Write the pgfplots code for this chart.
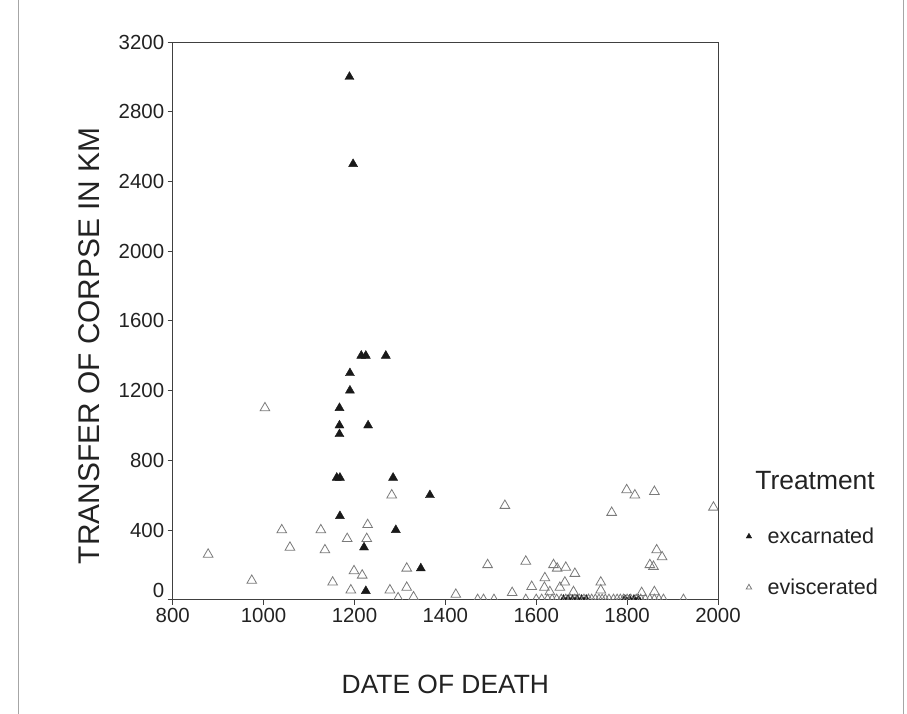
\documentclass[border=0pt]{standalone}
\usepackage{pgfplots}
\pgfplotsset{compat=1.18}
\usepackage{fontspec}
\setmainfont{Liberation Sans}
\definecolor{txt}{HTML}{222222}
\definecolor{hol}{HTML}{7A7A7A}
\pgfplotsset{smallmark/.style={legend image code/.code={\draw[##1,mark size=3.2bp] plot coordinates {(0bp,0bp)};}}}
\begin{document}
\begin{tikzpicture}
\begin{axis}[
 scale only axis, width=545.3bp, height=557.7bp,
 xmin=800, xmax=2000, ymin=0, ymax=3200,
 xtick={800,1000,...,2000}, ytick={400,800,...,3200},
 extra y ticks={0}, extra y tick style={yticklabel style={yshift=9bp}},
 xtick pos=left, ytick pos=left,
 axis line style={draw=black!75, line width=0.7bp},
 tick style={draw=black!75, line width=0.7bp},
 tick align=outside, major tick length=5bp,
 /pgf/number format/assume math mode=true,
 /pgf/number format/1000 sep={},
 ticklabel style={font=\fontsize{20.5}{23}\selectfont, text=txt},
 xlabel={DATE OF DEATH}, ylabel={TRANSFER OF CORPSE IN KM},
 every axis x label/.style={at={(rel axis cs:0.5,-0.152)},anchor=center,font=\fontsize{26.5}{30}\selectfont, text=txt},
 every axis y label/.style={at={(rel axis cs:-0.153,0.4555)},rotate=90,anchor=center,font=\fontsize{30}{34}\selectfont, text=txt},
 clip marker paths=true,
 legend style={draw=none, fill=none, at={(rel axis cs:1.0513,0.1327)}, anchor=north west,
   font=\fontsize{21.6}{24}\selectfont, text=txt, row sep=30bp, inner sep=0pt,
   /tikz/every odd column/.append style={column sep=14bp}},
 legend cell align=left,
]
\addplot[only marks, mark=triangle*, mark size=5.2bp, color=black!90, smallmark]
 table[row sep=\\]{
 x y\\
 1189 3000\\ 1197 2500\\ 1215 1400\\ 1225 1400\\ 1269 1400\\ 1190 1300\\ 1190 1200\\
 1167 1100\\ 1167 1000\\ 1167 950\\ 1230 1000\\ 1161 700\\ 1168 700\\ 1285 700\\
 1366 600\\ 1168 480\\ 1291 400\\ 1221 300\\ 1346 180\\ 1225 50\\
 1660 0\\ 1670 0\\ 1680 0\\ 1690 0\\ 1700 0\\ 1710 0\\ 1795 0\\ 1805 0\\ 1815 0\\ 1825 0\\
 };
\addlegendentry{excarnated}
\addplot[only marks, mark=triangle, mark size=5.6bp, color=hol, mark options={line width=0.8bp}, smallmark]
 table[row sep=\\]{
 x y\\
 878 260\\ 974 110\\ 1003 1100\\ 1040 400\\ 1058 300\\ 1126 400\\ 1135 285\\ 1152 100\\
 1184 350\\ 1192 55\\ 1199 165\\ 1217 140\\ 1227 350\\ 1229 430\\ 1278 55\\ 1282 600\\
 1296 10\\ 1315 180\\ 1315 70\\ 1330 15\\ 1423 30\\ 1471 0\\ 1484 0\\ 1507 0\\ 1493 200\\
 1531 540\\ 1547 40\\ 1577 220\\ 1577 0\\ 1590 75\\ 1618 70\\ 1619 125\\ 1630 45\\
 1638 200\\ 1646 180\\ 1652 70\\ 1663 100\\ 1665 185\\ 1682 45\\ 1685 150\\ 1742 100\\
 1742 55\\ 1766 500\\ 1799 630\\ 1817 600\\ 1832 40\\ 1850 200\\ 1858 190\\ 1860 620\\
 1860 45\\ 1865 285\\ 1877 245\\ 1924 0\\ 1990 530\\
 1600 0\\ 1612 0\\ 1625 0\\ 1635 0\\ 1645 0\\ 1655 0\\ 1665 0\\ 1675 0\\ 1685 0\\ 1695 0\\
 1705 0\\ 1715 0\\ 1722 0\\ 1730 0\\ 1738 0\\ 1745 0\\ 1752 0\\ 1760 0\\ 1770 0\\ 1778 0\\
 1785 0\\ 1792 0\\ 1800 0\\ 1808 0\\ 1820 0\\ 1830 0\\ 1840 0\\ 1850 0\\ 1860 0\\ 1870 0\\ 1880 0\\
 };
\addlegendentry{eviscerated}
\path (rel axis cs:1.178,0.2134) coordinate (T);
\end{axis}
\node[font=\fontsize{26.5}{30}\selectfont, text=txt] at (T) {Treatment};
\draw[black!35, line width=0.8bp] (-154.7bp,-114bp) -- (-154.7bp,599.7bp);
\draw[black!35, line width=0.8bp] (730.3bp,-114bp) -- (730.3bp,599.7bp);
\pgfresetboundingbox
\path[use as bounding box] (-172.7bp,-114bp) rectangle (734.3bp,599.7bp);
\end{tikzpicture}
\end{document}
